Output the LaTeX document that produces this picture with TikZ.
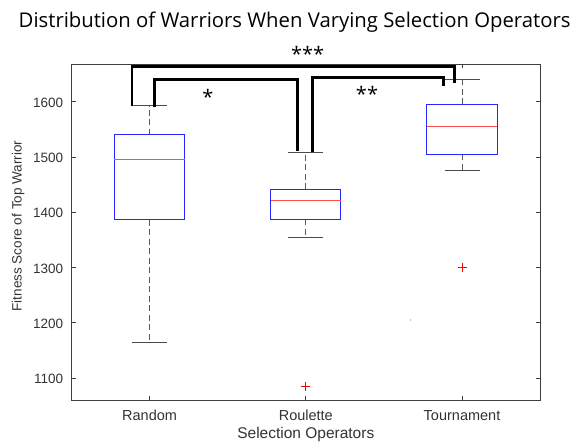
\documentclass[tikz,border=0pt]{standalone}
\usepackage{fontspec}
\setmainfont{Liberation Sans}
\newfontfamily\titlefont{Open Sans}
\tikzset{
	axisline/.style={draw=black!75, line width=0.9pt},
	boxline/.style={draw=blue!85, line width=1pt},
	medline/.style={draw=red!70, line width=1pt},
	whisker/.style={draw=black!65, line width=0.9pt, dash pattern=on 6pt off 3.5pt},
	capline/.style={draw=black!70, line width=0.9pt},
	outlier/.style={draw=red, line width=0.7pt},
	sigbar/.style={draw=black, line width=2.6pt, line join=miter},
	ticklabel/.style={text=black!80, inner sep=0pt, font=\fontsize{13.5}{16}\selectfont},
	catlabel/.style={text=black!80, inner sep=0pt, font=\fontsize{14.5}{17}\selectfont},
	starlabel/.style={inner sep=0pt, font=\titlefont\fontsize{20}{24}\selectfont}
}

\begin{document}
\begin{tikzpicture}[x=1pt, y=1pt]
	\useasboundingbox (0,0) rectangle (580,443);
	
	% title and labels
	\node[anchor=base, inner sep=0pt, font=\titlefont\fontsize{20.3}{24}\selectfont] (title) at (294.6,415.5) {Distribution of Warriors When Varying Selection Operators};
	\node[anchor=base, rotate=90, inner sep=0pt, text=black!80, font=\fontsize{13.5}{16}\selectfont] (ylab) at (21.7,217) {Fitness Score of Top Warrior};
	\node[anchor=base, inner sep=0pt, text=black!80, font=\fontsize{15.5}{18}\selectfont] (xlab) at (305.8,4.2) {Selection Operators};
	
	\begin{scope}[x=156.2pt, y=0.5532pt, shift={(-6.6pt,-543.8pt)}]
		% axes box
		\draw[axisline] (0.5,1060) rectangle (3.5,1668);
		
		% y ticks
		\draw[axisline] (0.5,1100) -- ++(4.5pt,0);  \draw[axisline] (3.5,1100) -- ++(-4.5pt,0);
		\draw[axisline] (0.5,1200) -- ++(4.5pt,0);  \draw[axisline] (3.5,1200) -- ++(-4.5pt,0);
		\draw[axisline] (0.5,1300) -- ++(4.5pt,0);  \draw[axisline] (3.5,1300) -- ++(-4.5pt,0);
		\draw[axisline] (0.5,1400) -- ++(4.5pt,0);  \draw[axisline] (3.5,1400) -- ++(-4.5pt,0);
		\draw[axisline] (0.5,1500) -- ++(4.5pt,0);  \draw[axisline] (3.5,1500) -- ++(-4.5pt,0);
		\draw[axisline] (0.5,1600) -- ++(4.5pt,0);  \draw[axisline] (3.5,1600) -- ++(-4.5pt,0);
		\node[ticklabel, anchor=base east] (t1100) at ([xshift=-8.2pt, yshift=-5.5pt]0.5,1100) {1100};
		\node[ticklabel, anchor=base east] (t1200) at ([xshift=-8.2pt, yshift=-5.5pt]0.5,1200) {1200};
		\node[ticklabel, anchor=base east] (t1300) at ([xshift=-8.2pt, yshift=-5.5pt]0.5,1300) {1300};
		\node[ticklabel, anchor=base east] (t1400) at ([xshift=-8.2pt, yshift=-5.5pt]0.5,1400) {1400};
		\node[ticklabel, anchor=base east] (t1500) at ([xshift=-8.2pt, yshift=-5.5pt]0.5,1500) {1500};
		\node[ticklabel, anchor=base east] (t1600) at ([xshift=-8.2pt, yshift=-5.5pt]0.5,1600) {1600};
		
		% x ticks
		\draw[axisline] (1,1060) -- ++(0,4pt);  \draw[axisline] (1,1668) -- ++(0,-4pt);
		\draw[axisline] (2,1060) -- ++(0,4pt);  \draw[axisline] (2,1668) -- ++(0,-4pt);
		\draw[axisline] (3,1060) -- ++(0,4pt);  \draw[axisline] (3,1668) -- ++(0,-4pt);
		\node[catlabel, anchor=base] (random) at ([yshift=-20.6pt]1,1060) {Random};
		\node[catlabel, anchor=base] (roulette) at ([yshift=-20.6pt]2,1060) {Roulette};
		\node[catlabel, anchor=base] (tournament) at ([yshift=-20.6pt]3,1060) {Tournament};
		
		% Random
		\draw[whisker] (1,1540.3) -- (1,1592.8);
		\draw[whisker] (1,1386.7) -- (1,1165);
		\draw[capline] (0.888,1592.8) -- (1.112,1592.8);
		\draw[capline] (0.888,1165) -- (1.112,1165);
		\draw[boxline] (0.775,1386.7) rectangle (1.225,1540.3);
		\draw[medline] (0.775,1494.6) -- (1.225,1494.6);
		
		% Roulette
		\draw[whisker] (2,1441.6) -- (2,1508.5);
		\draw[whisker] (2,1387.4) -- (2,1354.2);
		\draw[capline] (1.888,1508.5) -- (2.112,1508.5);
		\draw[capline] (1.888,1354.2) -- (2.112,1354.2);
		\draw[boxline] (1.775,1387.4) rectangle (2.225,1441.6);
		\draw[medline] (1.775,1420.5) -- (2.225,1420.5);
		\draw[outlier] (2,1085) ++(-4.5pt,0) -- ++(9pt,0) (2,1085) ++(0,-4.5pt) -- ++(0,9pt);
		
		% Tournament
		\draw[whisker] (3,1595.3) -- (3,1640.5);
		\draw[whisker] (3,1504.9) -- (3,1475.3);
		\draw[capline] (2.888,1640.5) -- (3.112,1640.5);
		\draw[capline] (2.888,1475.3) -- (3.112,1475.3);
		\draw[boxline] (2.775,1504.9) rectangle (3.225,1595.3);
		\draw[medline] (2.775,1556) -- (3.225,1556);
		\draw[outlier] (3,1300) ++(-4.5pt,0) -- ++(9pt,0) (3,1300) ++(0,-4.5pt) -- ++(0,9pt);
	\end{scope}
	
	% stray dot
	\fill[black!50] (410.5,123) circle (0.6pt);
	
	% significance brackets
	\coordinate (a1) at (131.9,337.3);
	\coordinate (a2) at (454.3,360.3);
	\coordinate (b1) at (154.3,335.7);
	\coordinate (b2) at (297.3,292);
	\coordinate (c1) at (312.3,291.3);
	\coordinate (c2) at (443.3,357);
	\draw[sigbar] (a1) -- ++(0,39.4) -| (a2);
	\draw[sigbar] (b1) -- ++(0,28) -| (b2);
	\draw[sigbar] (c1) -- ++(0,74) -| (c2);
	\node[starlabel, anchor=north] (s3) at (307.6,396.5) {***};
	\node[starlabel, anchor=north] (s1) at (208,353.7) {*};
	\node[starlabel, anchor=north] (s2) at (367,357) {**};
\end{tikzpicture}
\end{document}
